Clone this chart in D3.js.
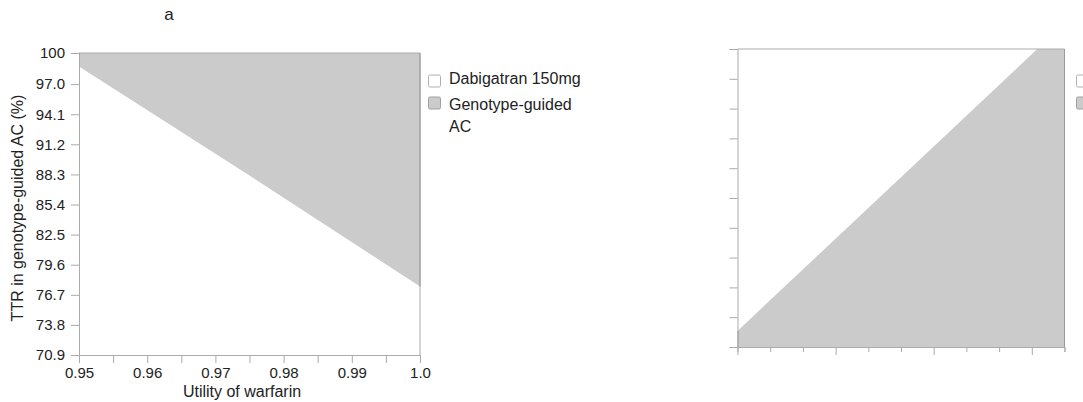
<!DOCTYPE html>
<html><head><meta charset="utf-8">
<script src="https://cdn.jsdelivr.net/npm/d3@7"></script>
<style>
html,body{margin:0;padding:0;background:#fff;}
svg{display:block;font-family:"Liberation Sans",Arial,Helvetica,sans-serif;}
</style></head>
<body><svg id="chart" width="1083" height="402"></svg>
<script>
// ---- data (panel a) ----
const panelTitle = "a";
const xLabel = "Utility of warfarin";
const yLabel = "TTR in genotype-guided AC (%)";
const legendItems = ["Dabigatran 150mg", "Genotype-guided AC"];
const xTickValues = [0.95, 0.96, 0.97, 0.98, 0.99, 1.0];
const xTickLabels = ["0.95", "0.96", "0.97", "0.98", "0.99", "1.0"];
const yTickValues = [70.9, 73.8, 76.7, 79.6, 82.5, 85.4, 88.3, 91.2, 94.1, 97.0, 100];
const yTickLabels = ["70.9", "73.8", "76.7", "79.6", "82.5", "85.4", "88.3", "91.2", "94.1", "97.0", "100"];
const warfarinUtility = [0.95, 0.975, 1.0];
const ttrThreshold = [98.7, 88.2, 77.5];   // above this: genotype-guided AC preferred

// ---- data (panel b, unlabeled in the picture) ----
const bX = [0, 0.917, 1.0];
const bThreshold = [0.054, 1.0, 1.0];      // below this: genotype-guided AC preferred

const svg = d3.select("#chart");
const AXIS = "#ababab", DARK = "#9a9a9a", FILL = "#cbcbcb", TXT = "#222";

// ---------- Panel a ----------
const A = {l: 79, r: 420, t: 53, b: 355};
const xa = d3.scaleLinear().domain([0.95, 1.0]).range([A.l, A.r]);
const ya = d3.scaleLinear().domain([70.9, 100]).range([A.b, A.t]);
const ga = svg.append("g");

const areaA = d3.area().x((d,i)=>xa(warfarinUtility[i])).y0(ya(100)).y1((d,i)=>ya(ttrThreshold[i]));
ga.append("path").datum(ttrThreshold).attr("d", areaA).attr("fill", FILL);

ga.append("line").attr("x1", A.l).attr("x2", A.r).attr("y1", A.t).attr("y2", A.t).attr("stroke", AXIS);
ga.append("line").attr("x1", A.r).attr("x2", A.r).attr("y1", A.t).attr("y2", A.b).attr("stroke", AXIS);
ga.append("line").attr("x1", A.r).attr("x2", A.r).attr("y1", ya(100)).attr("y2", ya(ttrThreshold[ttrThreshold.length-1])).attr("stroke", DARK);
ga.append("line").attr("x1", A.l+0.5).attr("x2", A.l+0.5).attr("y1", ya(100)).attr("y2", ya(ttrThreshold[0])).attr("stroke", DARK);

const yAxA = d3.axisLeft(ya).tickValues(yTickValues).tickFormat((d,i)=>yTickLabels[i]).tickSize(8).tickPadding(6);
const gy = ga.append("g").attr("transform", `translate(${A.l},0)`).call(yAxA);
gy.select(".domain").attr("stroke", AXIS);
gy.selectAll(".tick line").attr("stroke", AXIS);
gy.selectAll(".tick text").attr("fill", TXT).style("font-size", "15px");

const xMinor = d3.range(0, 11).map(i => 0.95 + i*0.005);
const xAxA = d3.axisBottom(xa).tickValues(xMinor).tickFormat(d => {
  const k = xTickValues.findIndex(v => Math.abs(v-d) < 1e-9);
  return k >= 0 ? xTickLabels[k] : "";
}).tickSize(8).tickPadding(4);
const gx = ga.append("g").attr("transform", `translate(0,${A.b})`).call(xAxA);
gx.select(".domain").attr("stroke", AXIS);
gx.selectAll(".tick line").attr("stroke", AXIS);
gx.selectAll(".tick text").attr("fill", TXT).style("font-size", "15px");

ga.append("text").attr("x", 169).attr("y", 20).attr("text-anchor", "middle")
  .style("font-size", "17px").attr("fill", TXT).text(panelTitle);
ga.append("text").attr("x", 242).attr("y", 397).attr("text-anchor", "middle")
  .style("font-size", "16px").attr("fill", TXT).text(xLabel);
ga.append("text").attr("transform", "translate(23,208) rotate(-90)").attr("text-anchor", "middle")
  .style("font-size", "16px").attr("fill", TXT).text(yLabel);

function legendBoxes(g, x0, y0) {
  const fills = ["#ffffff", FILL];
  const strokes = ["#b0b0b0", "#a0a0a0"];
  const boxY = [y0, y0 + 22];
  boxY.forEach((by, i) => g.append("rect").attr("x", x0).attr("y", by).attr("width", 12).attr("height", 12)
      .attr("rx", 1.5).attr("fill", fills[i]).attr("stroke", strokes[i]));
}
legendBoxes(ga, 428.5, 75);
const t1 = ga.append("text").attr("x", 449).attr("y", 83.5).style("font-size", "16px").attr("fill", TXT).text(legendItems[0]);
const parts = legendItems[1].split(" ");
const t2 = ga.append("text").attr("x", 449).attr("y", 109.5).style("font-size", "16px").attr("fill", TXT);
t2.append("tspan").attr("x", 449).text(parts[0]);
t2.append("tspan").attr("x", 449).attr("dy", 22).text(parts.slice(1).join(" "));

// ---------- Panel b ----------
const B = {l: 737.5, r: 1064.5, t: 49, b: 347};
const xb = d3.scaleLinear().domain([0, 1]).range([B.l, B.r]);
const yb = d3.scaleLinear().domain([0, 1]).range([B.b, B.t]);
const gb = svg.append("g");

const areaB = d3.area().x((d,i)=>xb(bX[i])).y0(yb(0)).y1((d,i)=>yb(bThreshold[i]));
gb.append("path").datum(bThreshold).attr("d", areaB).attr("fill", FILL);

gb.append("line").attr("x1", B.l).attr("x2", B.r).attr("y1", B.t).attr("y2", B.t).attr("stroke", AXIS);
gb.append("line").attr("x1", B.r).attr("x2", B.r).attr("y1", B.t).attr("y2", B.b).attr("stroke", DARK);
gb.append("line").attr("x1", B.l+0.5).attr("x2", B.l+0.5).attr("y1", yb(0)).attr("y2", yb(bThreshold[0])).attr("stroke", DARK);

const yAxB = d3.axisLeft(yb).tickValues(d3.range(0, 11).map(i => i/10)).tickFormat("").tickSize(8);
const gyb = gb.append("g").attr("transform", `translate(${B.l},0)`).call(yAxB);
gyb.select(".domain").attr("stroke", AXIS);
gyb.selectAll(".tick line").attr("stroke", AXIS);

const xAxB = d3.axisBottom(xb).tickValues(d3.range(0, 11).map(i => i/10)).tickFormat("").tickSize(5);
const gxb = gb.append("g").attr("transform", `translate(0,${B.b})`).call(xAxB);
gxb.select(".domain").attr("stroke", AXIS);
gxb.selectAll(".tick line").attr("stroke", AXIS).attr("y2", (d,i) => i % 3 === 0 ? 8 : 5);

// panel b legend: only the swatches are inside the picture
legendBoxes(gb, 1076.5, 75);
</script></body></html>
